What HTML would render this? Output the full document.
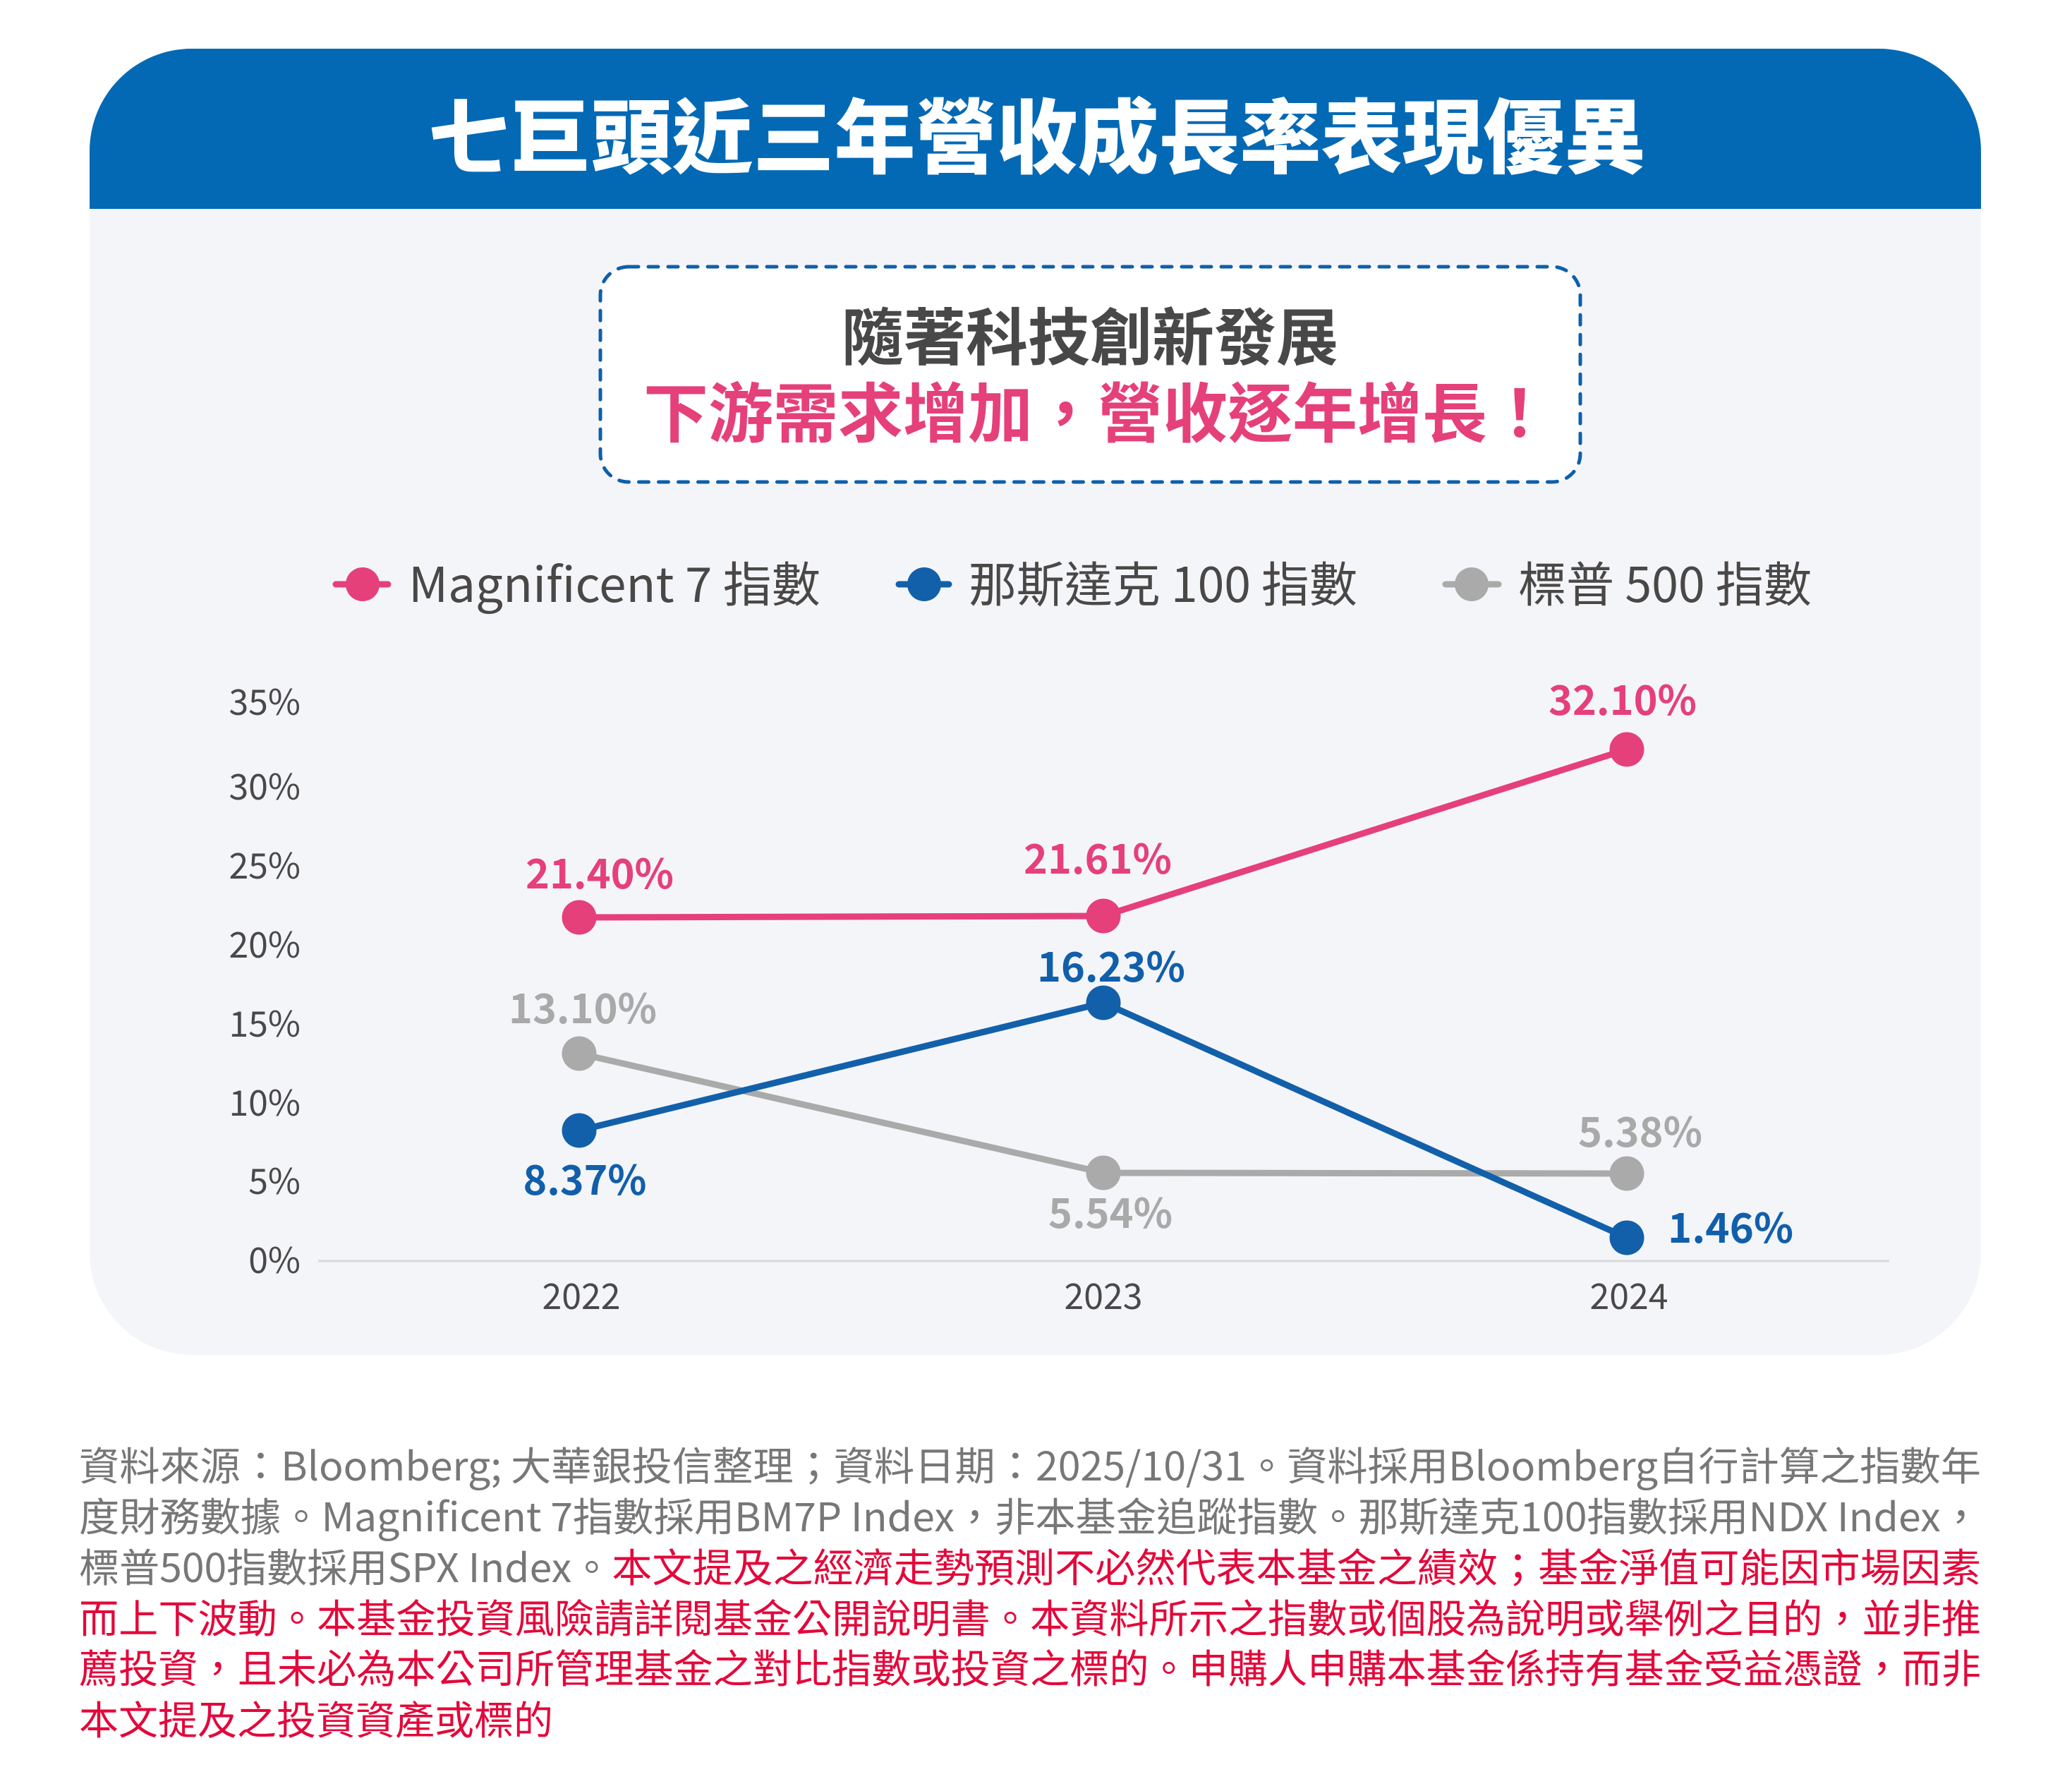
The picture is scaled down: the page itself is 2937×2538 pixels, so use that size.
<!DOCTYPE html>
<html>
<head>
<meta charset="utf-8">
<style>
  html, body { margin: 0; padding: 0; background: #ffffff; }
  body { width: 2937px; height: 2538px; overflow: hidden; }
  svg { display: block; }
  .f { font-family: "Noto Sans CJK TC", "Liberation Sans", "Noto Sans CJK JP", sans-serif; }
</style>
</head>
<body>
<svg width="2937" height="2538" viewBox="0 0 2937 2538" xmlns="http://www.w3.org/2000/svg">
  <defs>
    <clipPath id="cardclip">
      <rect x="127" y="69" width="2681" height="1851" rx="145" ry="145"/>
    </clipPath>
  </defs>

  <!-- Card -->
  <rect x="127" y="69" width="2681" height="1851" rx="145" ry="145" fill="#f4f5f9"/>
  <rect x="127" y="69" width="2681" height="227" fill="#0369b5" clip-path="url(#cardclip)"/>

  <!-- Title -->
  <text class="f" x="1470" y="236" font-size="115" font-weight="900" fill="#ffffff" text-anchor="middle" textLength="1725" lengthAdjust="spacingAndGlyphs">七巨頭近三年營收成長率表現優異</text>

  <!-- Dashed callout box -->
  <rect x="851" y="378" width="1389" height="305" rx="40" ry="40" fill="#ffffff" stroke="#0f5fab" stroke-width="5" stroke-dasharray="14 14" stroke-linecap="round"/>
  <text class="f" x="1545" y="510" font-size="88" font-weight="700" fill="#484848" text-anchor="middle">隨著科技創新發展</text>
  <text class="f" x="1556" y="619" font-size="92" font-weight="700" fill="#e5407a" text-anchor="middle">下游需求增加，營收逐年增長！</text>

  <!-- Legend -->
  <g>
    <line x1="476" y1="828" x2="550" y2="828" stroke="#e5407a" stroke-width="9" stroke-linecap="round"/>
    <circle cx="514" cy="828" r="24" fill="#e5407a"/>
    <text class="f" x="579" y="853" font-size="68" fill="#4a4847" textLength="584" lengthAdjust="spacingAndGlyphs">Magnificent 7 指數</text>

    <line x1="1274" y1="828" x2="1345" y2="828" stroke="#1260aa" stroke-width="9" stroke-linecap="round"/>
    <circle cx="1310" cy="828" r="24" fill="#1260aa"/>
    <text class="f" x="1373" y="853" font-size="68" fill="#4a4847" textLength="551" lengthAdjust="spacingAndGlyphs">那斯達克 100 指數</text>

    <line x1="2049" y1="828" x2="2124" y2="828" stroke="#aaaaaa" stroke-width="9" stroke-linecap="round"/>
    <circle cx="2086" cy="828" r="24" fill="#aaaaaa"/>
    <text class="f" x="2152" y="853" font-size="68" fill="#4a4847" textLength="416" lengthAdjust="spacingAndGlyphs">標普 500 指數</text>
  </g>

  <!-- Y axis labels -->
  <g class="f" font-size="50" fill="#4a4848" text-anchor="end">
    <text x="426" y="1013">35%</text>
    <text x="426" y="1133">30%</text>
    <text x="426" y="1245">25%</text>
    <text x="426" y="1357">20%</text>
    <text x="426" y="1469">15%</text>
    <text x="426" y="1581">10%</text>
    <text x="426" y="1692">5%</text>
    <text x="426" y="1804">0%</text>
  </g>

  <!-- Baseline -->
  <line x1="451" y1="1787" x2="2678" y2="1787" stroke="#d9d9dc" stroke-width="3"/>

  <!-- X axis labels -->
  <g class="f" font-size="50" fill="#4a4848" text-anchor="middle">
    <text x="824" y="1855">2022</text>
    <text x="1564" y="1855">2023</text>
    <text x="2309" y="1855">2024</text>
  </g>

  <!-- Series: S&P 500 (gray) -->
  <polyline points="821,1493 1564,1662 2306,1663" fill="none" stroke="#aaaaaa" stroke-width="9" stroke-linejoin="round"/>
  <circle cx="821" cy="1493" r="24.5" fill="#aaaaaa"/>
  <circle cx="1564" cy="1662" r="24.5" fill="#aaaaaa"/>
  <circle cx="2306" cy="1663" r="24.5" fill="#aaaaaa"/>

  <!-- Series: Nasdaq 100 (blue) -->
  <polyline points="821,1602 1564,1421 2306,1754" fill="none" stroke="#1260aa" stroke-width="9" stroke-linejoin="round"/>
  <circle cx="821" cy="1602" r="24.5" fill="#1260aa"/>
  <circle cx="1564" cy="1421" r="24.5" fill="#1260aa"/>
  <circle cx="2306" cy="1754" r="24.5" fill="#1260aa"/>

  <!-- Series: Magnificent 7 (pink) -->
  <polyline points="821,1300 1564,1298 2306,1062" fill="none" stroke="#e5407a" stroke-width="9" stroke-linejoin="round"/>
  <circle cx="821" cy="1300" r="24.5" fill="#e5407a"/>
  <circle cx="1564" cy="1298" r="24.5" fill="#e5407a"/>
  <circle cx="2306" cy="1062" r="24.5" fill="#e5407a"/>

  <!-- Data labels -->
  <g class="f" font-size="58" font-weight="700" text-anchor="middle">
    <text x="850" y="1259" fill="#e5407a" textLength="210" lengthAdjust="spacingAndGlyphs">21.40%</text>
    <text x="1556" y="1238" fill="#e5407a" textLength="210" lengthAdjust="spacingAndGlyphs">21.61%</text>
    <text x="2300" y="1013" fill="#e5407a" textLength="210" lengthAdjust="spacingAndGlyphs">32.10%</text>

    <text x="1575" y="1391" fill="#115fab" textLength="210" lengthAdjust="spacingAndGlyphs">16.23%</text>
    <text x="829" y="1693" fill="#115fab" textLength="175" lengthAdjust="spacingAndGlyphs">8.37%</text>

    <text x="826" y="1450" fill="#a9a9a9" textLength="210" lengthAdjust="spacingAndGlyphs">13.10%</text>
    <text x="1574" y="1740" fill="#a9a9a9" textLength="176" lengthAdjust="spacingAndGlyphs">5.54%</text>
    <text x="2325" y="1625" fill="#a9a9a9" textLength="176" lengthAdjust="spacingAndGlyphs">5.38%</text>
  </g>
  <text class="f" x="2364" y="1761" font-size="58" font-weight="700" fill="#115fab" textLength="178" lengthAdjust="spacingAndGlyphs">1.46%</text>

  <!-- Footer -->
  <g class="f" font-size="56">
    <text x="112" y="2098" fill="#777777" textLength="2696" lengthAdjust="spacingAndGlyphs">資料來源：Bloomberg; 大華銀投信整理；資料日期：2025/10/31。資料採用Bloomberg自行計算之指數年</text>
    <text x="112" y="2170" fill="#777777" textLength="2696" lengthAdjust="spacingAndGlyphs">度財務數據。Magnificent 7指數採用BM7P Index，非本基金追蹤指數。那斯達克100指數採用NDX Index，</text>
    <text x="112" y="2242" textLength="2696" lengthAdjust="spacingAndGlyphs"><tspan fill="#777777">標普500指數採用SPX Index。</tspan><tspan fill="#e3083b">本文提及之經濟走勢預測不必然代表本基金之績效；基金淨值可能因市場因素</tspan></text>
    <text x="112" y="2314" fill="#e3083b" textLength="2696" lengthAdjust="spacingAndGlyphs">而上下波動。本基金投資風險請詳閱基金公開說明書。本資料所示之指數或個股為說明或舉例之目的，並非推</text>
    <text x="112" y="2385" fill="#e3083b" textLength="2696" lengthAdjust="spacingAndGlyphs">薦投資，且未必為本公司所管理基金之對比指數或投資之標的。申購人申購本基金係持有基金受益憑證，而非</text>
    <text x="112" y="2458" fill="#e3083b">本文提及之投資資產或標的</text>
  </g>
</svg>
</body>
</html>
